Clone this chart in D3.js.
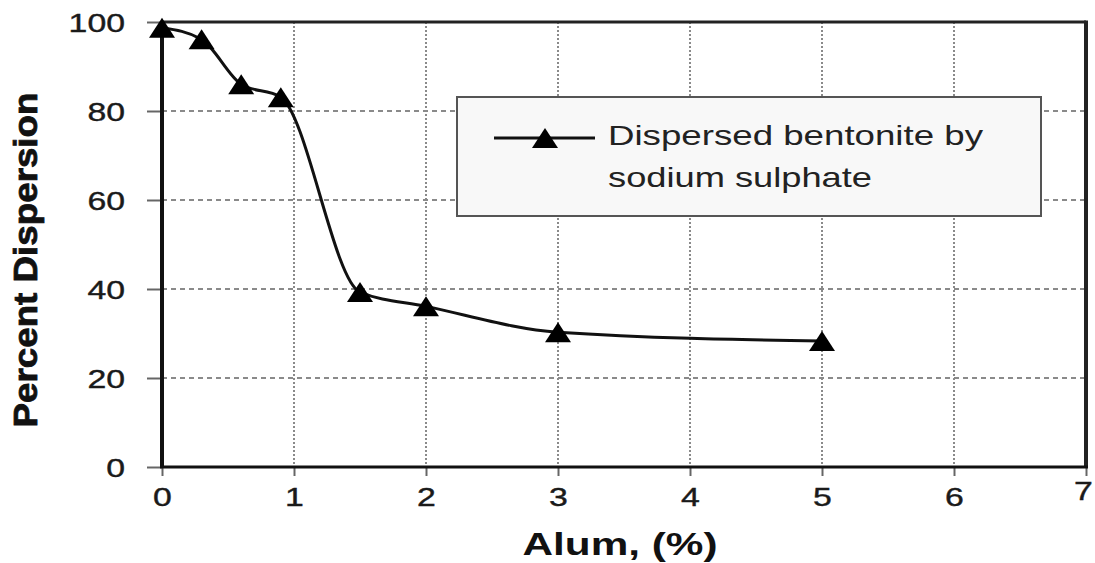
<!DOCTYPE html>
<html>
<head>
<meta charset="utf-8">
<script src="https://cdn.jsdelivr.net/npm/d3@7"></script>
<style>
  html, body { margin: 0; padding: 0; background: #fff; }
  svg { display: block; font-family: "Liberation Sans", Arial, sans-serif; }
</style>
</head>
<body>
<svg id="chart" width="1095" height="563"></svg>
<script>
const alumPct = [0, 0.3, 0.6, 0.9, 1.5, 2, 3, 5];
const dispersion = [98.7, 96.1, 86, 83.1, 39.3, 36.1, 30.3, 28.3];
const xTicks = [0, 1, 2, 3, 4, 5, 6, 7];
const yTicks = [0, 20, 40, 60, 80, 100];
const seriesName = ["Dispersed bentonite by", "sodium sulphate"];
const xTitle = "Alum, (%)";
const yTitle = "Percent Dispersion";

const svg = d3.select("#chart");
const L = 162, R = 1086, T = 22, B = 467;
const x = d3.scaleLinear().domain([0, 7]).range([L, R]);
const y = d3.scaleLinear().domain([0, 100]).range([B, T]);
const SX = 1.3;

function stretch(sel, k) {
  sel.each(function() {
    const w = this.getComputedTextLength();
    d3.select(this).attr("textLength", w * k).attr("lengthAdjust", "spacingAndGlyphs");
  });
}

// grid
const grid = svg.append("g");
grid.selectAll("line.h").data(yTicks.filter(d => d > 0 && d < 100)).join("line")
  .attr("x1", L).attr("x2", R).attr("y1", d => y(d)).attr("y2", d => y(d))
  .attr("stroke", "#8a8a8a").attr("stroke-width", 2).attr("stroke-dasharray", "5,4");
grid.selectAll("line.v").data(xTicks.filter(d => d > 0 && d < 7)).join("line")
  .attr("x1", d => x(d)).attr("x2", d => x(d)).attr("y1", T).attr("y2", B)
  .attr("stroke", "#8a8a8a").attr("stroke-width", 2).attr("stroke-dasharray", "2,2");

// axes
const yAxis = svg.append("g").attr("transform", `translate(${L},0)`)
  .call(d3.axisLeft(y).tickValues(yTicks).tickFormat(d3.format("d")).tickSize(15).tickPadding(22));
yAxis.select(".domain").remove();
yAxis.selectAll(".tick line").attr("stroke", "#666").attr("stroke-width", 2);
yAxis.selectAll(".tick text").attr("font-size", 26).attr("fill", "#1a1a1a")
  .attr("stroke", "#1a1a1a").attr("stroke-width", 0.4)
  .attr("font-family", "Liberation Sans, Arial, sans-serif").attr("dy", "0.36em");
stretch(yAxis.selectAll(".tick text"), SX);

const xAxis = svg.append("g").attr("transform", `translate(0,${B})`)
  .call(d3.axisBottom(x).tickValues(xTicks).tickFormat(d3.format("d")).tickSize(9).tickPadding(12));
xAxis.select(".domain").remove();
xAxis.selectAll(".tick line").attr("stroke", "#666").attr("stroke-width", 2);
xAxis.selectAll(".tick text").attr("font-size", 26).attr("fill", "#1a1a1a")
  .attr("stroke", "#1a1a1a").attr("stroke-width", 0.4)
  .attr("font-family", "Liberation Sans, Arial, sans-serif").attr("dy", "0.71em");
stretch(xAxis.selectAll(".tick text"), SX);
xAxis.selectAll(".tick").filter(d => d === 7).select("text").attr("transform", "translate(-3,-6)");

// frame
svg.append("line").attr("x1", L).attr("x2", R).attr("y1", T).attr("y2", T).attr("stroke", "#222").attr("stroke-width", 3);
svg.append("line").attr("x1", R).attr("x2", R).attr("y1", T - 1.5).attr("y2", B).attr("stroke", "#222").attr("stroke-width", 4);
svg.append("line").attr("x1", L - 2).attr("x2", R + 2).attr("y1", B).attr("y2", B).attr("stroke", "#111").attr("stroke-width", 3);
svg.append("line").attr("x1", L).attr("x2", L).attr("y1", T).attr("y2", B + 1).attr("stroke", "#111").attr("stroke-width", 4);

// axis titles
const xt = svg.append("text").attr("x", 620).attr("y", 555).attr("text-anchor", "middle")
  .attr("font-size", 32).attr("font-weight", "bold").attr("fill", "#111").text(xTitle);
xt.attr("textLength", 195).attr("lengthAdjust", "spacingAndGlyphs");
const yt = svg.append("text").attr("transform", "translate(37,260) rotate(-90)").attr("text-anchor", "middle")
  .attr("font-size", 33).attr("font-weight", "bold").attr("fill", "#111")
  .attr("stroke", "#111").attr("stroke-width", 0.8).text(yTitle);
yt.attr("textLength", 335).attr("lengthAdjust", "spacingAndGlyphs");

// line
const pts = alumPct.map((v, i) => [v, dispersion[i]]);
svg.append("path").datum(pts)
  .attr("d", d3.line().x(d => x(d[0])).y(d => y(d[1])).curve(d3.curveMonotoneX))
  .attr("fill", "none").attr("stroke", "#111").attr("stroke-width", 3);

const tri = (cx, cy, w, h) => `M${cx - w/2},${cy + h/2}L${cx},${cy - h/2}L${cx + w/2},${cy + h/2}Z`;
svg.append("g").selectAll("path").data(pts).join("path")
  .attr("d", d => tri(x(d[0]), y(d[1]), 26, 20)).attr("fill", "#000");

// legend
const lg = svg.append("g");
lg.append("rect").attr("x", 457).attr("y", 97).attr("width", 584).attr("height", 119)
  .attr("fill", "#f8f8f8").attr("stroke", "#555").attr("stroke-width", 2);
lg.append("line").attr("x1", 494).attr("x2", 595).attr("y1", 138).attr("y2", 138)
  .attr("stroke", "#111").attr("stroke-width", 3);
lg.append("path").attr("d", tri(545, 138, 26, 20)).attr("fill", "#000");
const l1 = lg.append("text").attr("x", 608).attr("y", 145).attr("font-size", 28).attr("fill", "#222").text(seriesName[0]);
l1.attr("textLength", 375).attr("lengthAdjust", "spacingAndGlyphs");
const l2 = lg.append("text").attr("x", 608).attr("y", 187).attr("font-size", 28).attr("fill", "#222").text(seriesName[1]);
l2.attr("textLength", 264).attr("lengthAdjust", "spacingAndGlyphs");
</script>
</body>
</html>
